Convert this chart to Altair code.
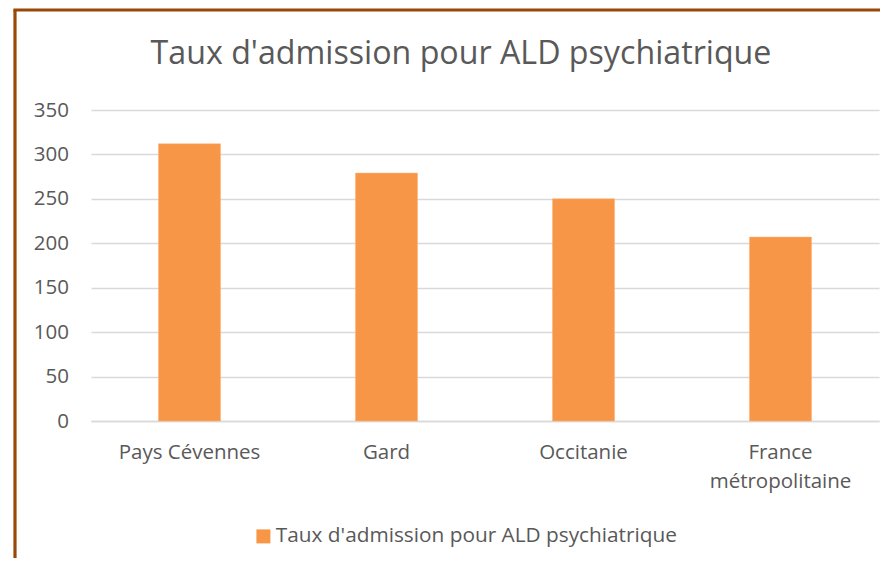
import altair as alt
import pandas as pd

categories = ["Pays Cévennes", "Gard", "Occitanie", "France\nmétropolitaine"]
values = [312, 279, 250, 207]
series_name = "Taux d'admission pour ALD psychiatrique"
y_ticks = [0, 50, 100, 150, 200, 250, 300, 350]

df = pd.DataFrame({"cat": categories, "val": values, "series": [series_name] * len(categories)})

FONT = "Open Sans"
TXT = "#595959"
GRID = "#d9d9d9"

bars = alt.Chart(df).mark_bar(color="#F79646", stroke="#FAB27A", strokeWidth=0.5).encode(
    x=alt.X("cat:N", sort=categories, title=None,
            scale=alt.Scale(paddingInner=0.685, paddingOuter=0.3425),
            axis=alt.Axis(labelAngle=0, labelFont=FONT, labelFontSize=20.5, labelColor=TXT,
                          labelPadding=21.5, labelLineHeight=28.5, ticks=False, tickSize=0,
                          domainColor=GRID, domainWidth=1.3,
                          labelExpr="split(datum.label, '\\n')")),
    y=alt.Y("val:Q", title=None,
            scale=alt.Scale(domain=[0, 350], nice=False),
            axis=alt.Axis(values=y_ticks, labelFont=FONT, labelFontSize=20.5, labelColor=TXT,
                          labelPadding=22.5, ticks=False, tickSize=0, domain=False,
                          gridColor=GRID, gridWidth=1.3)),
    color=alt.Color("series:N", scale=alt.Scale(range=["#F79646"]),
                    legend=alt.Legend(title=None, orient="none", legendX=162, legendY=416,
                                      symbolType="square", symbolSize=196, symbolStrokeWidth=0,
                                      labelFont=FONT, labelFontSize=20.8, labelColor=TXT,
                                      labelOffset=2, padding=0, labelLimit=700)),
)

border = alt.Chart(alt.Data(values=[{"a": 1}])).mark_rule(color="#984807", strokeWidth=3.2).encode(
    x=alt.value(-76), y=alt.value(-100), y2=alt.value(460)
)
border_top = alt.Chart(alt.Data(values=[{"a": 1}])).mark_rule(color="#984807", strokeWidth=3.2).encode(
    x=alt.value(-77.6), x2=alt.value(900), y=alt.value(-100)
)

chart = alt.layer(bars, border, border_top).properties(
    width=788, height=311,
    title=alt.TitleParams(series_name, font=FONT, fontSize=32.2, fontWeight="normal", color=TXT,
                          anchor="middle", baseline="alphabetic", dx=-24, dy=88, offset=0),
    autosize=alt.AutoSizeParams(type="none"),
    padding={"left": 83, "top": 102, "right": 1, "bottom": 137},
).configure_view(stroke=None)

chart.save("out.html", embed_options={"renderer": "svg", "actions": False})
